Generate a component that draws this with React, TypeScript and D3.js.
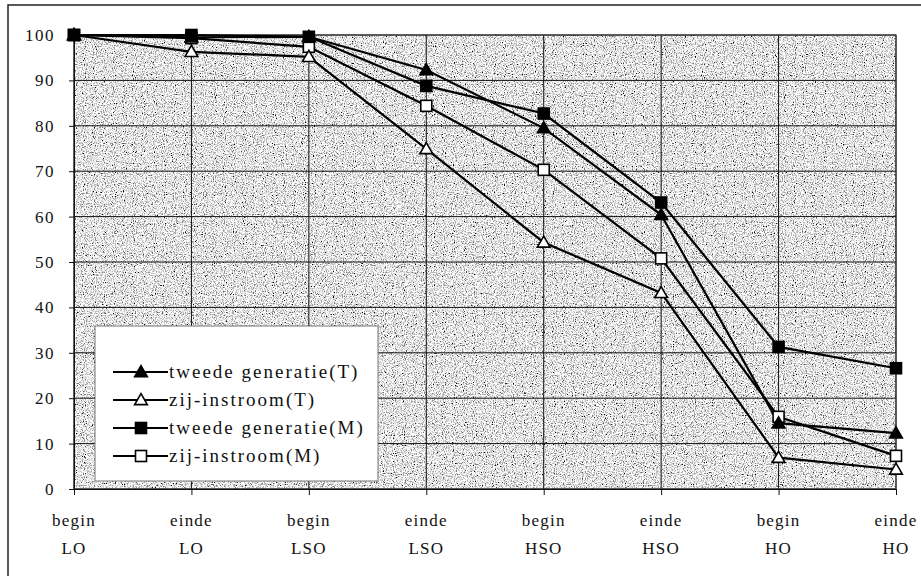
import { useEffect, useRef } from "react";
import * as d3 from "d3";

const categories = [
  ["begin", "LO"],
  ["einde", "LO"],
  ["begin", "LSO"],
  ["einde", "LSO"],
  ["begin", "HSO"],
  ["einde", "HSO"],
  ["begin", "HO"],
  ["einde", "HO"],
];

const tweedeT = [100, 99.5, 99.6, 92.3, 79.5, 60.4, 14.5, 12.3];
const zijT = [100, 96.3, 95.2, 74.9, 54.3, 43.2, 6.9, 4.3];
const tweedeM = [100, 100, 99.6, 88.8, 82.7, 63.1, 31.3, 26.6];
const zijM = [100, 99.3, 97.4, 84.4, 70.3, 50.8, 15.9, 7.3];

const yTicks = [0, 10, 20, 30, 40, 50, 60, 70, 80, 90, 100];

const series = [
  { name: "tweede generatie(T)", values: tweedeT, shape: "triangle", filled: true },
  { name: "zij-instroom(T)", values: zijT, shape: "triangle", filled: false },
  { name: "tweede generatie(M)", values: tweedeM, shape: "square", filled: true },
  { name: "zij-instroom(M)", values: zijM, shape: "square", filled: false },
];

const FONT = "'Liberation Serif', 'Times New Roman', Times, Tinos, 'Nimbus Roman', 'DejaVu Serif', serif";

const App = () => {
  const svgRef = useRef<SVGSVGElement>(null);
  const W = 921;
  const H = 576;
  const margin = { top: 35, right: 25, bottom: 87, left: 74 };

  useEffect(() => {
    const svg = d3.select(svgRef.current);
    svg.selectAll("*").remove();

    const x = d3.scalePoint<number>()
      .domain(d3.range(categories.length))
      .range([margin.left, W - margin.right]);
    const y = d3.scaleLinear().domain([0, 100]).range([H - margin.bottom, margin.top]);

    // stipple texture for the plot area
    const defs = svg.append("defs");
    const filt = defs.append("filter").attr("id", "stipple")
      .attr("x", 0).attr("y", 0).attr("width", 1).attr("height", 1);
    filt.append("feTurbulence")
      .attr("type", "fractalNoise")
      .attr("baseFrequency", 0.9)
      .attr("numOctaves", 2)
      .attr("seed", 3)
      .attr("result", "n");
    filt.append("feColorMatrix")
      .attr("type", "matrix")
      .attr("values", "2.8 0 0 0 -0.6  2.8 0 0 0 -0.6  2.8 0 0 0 -0.6  0 0 0 0 1");

    // outer frame
    svg.append("rect")
      .attr("x", 8).attr("y", 5)
      .attr("width", W).attr("height", H)
      .attr("fill", "#fff").attr("stroke", "#222").attr("stroke-width", 1.5);

    const x0 = margin.left, x1 = W - margin.right;
    const y0 = margin.top, y1 = H - margin.bottom;

    svg.append("rect")
      .attr("x", x0).attr("y", y0)
      .attr("width", x1 - x0).attr("height", y1 - y0)
      .attr("fill", "#aaa")
      .attr("filter", "url(#stipple)");

    // grid
    svg.append("g")
      .selectAll("line")
      .data(yTicks)
      .join("line")
      .attr("x1", x0).attr("x2", x1)
      .attr("y1", d => y(d)).attr("y2", d => y(d))
      .attr("stroke", "#111").attr("stroke-width", 1);

    svg.append("g")
      .selectAll("line")
      .data(d3.range(categories.length))
      .join("line")
      .attr("x1", d => x(d)!).attr("x2", d => x(d)!)
      .attr("y1", y0).attr("y2", y1)
      .attr("stroke", "#111").attr("stroke-width", 1);

    svg.append("rect")
      .attr("x", x0).attr("y", y0)
      .attr("width", x1 - x0).attr("height", y1 - y0)
      .attr("fill", "none").attr("stroke", "#333").attr("stroke-width", 1);

    // y axis
    const yAxis = svg.append("g")
      .attr("transform", `translate(${x0},0)`)
      .call(d3.axisLeft(y).tickValues(yTicks).tickSize(5).tickPadding(14));
    yAxis.attr("font-family", null).attr("font-size", null);
    yAxis.select(".domain").attr("stroke", "#111");
    yAxis.selectAll(".tick line").attr("stroke", "#111");
    yAxis.selectAll("text")
      .style("font-family", FONT)
      .style("font-size", "17px")
      .attr("letter-spacing", 1.5)
      .attr("fill", "#111");

    // x axis
    const xAxis = svg.append("g")
      .attr("transform", `translate(0,${y1})`)
      .call(d3.axisBottom(x).tickSize(6).tickFormat(() => ""));
    xAxis.select(".domain").attr("stroke", "#111");
    xAxis.selectAll(".tick line").attr("stroke", "#111");

    const labels = svg.append("g")
      .selectAll("text")
      .data(categories)
      .join("text")
      .style("font-family", FONT)
      .style("font-size", "17px")
      .attr("letter-spacing", 1.2)
      .attr("fill", "#111")
      .attr("text-anchor", "middle");
    labels.append("tspan")
      .attr("x", (d, i) => x(i)!)
      .attr("y", 526)
      .text(d => d[0]);
    labels.append("tspan")
      .attr("x", (d, i) => x(i)!)
      .attr("y", 554)
      .text(d => d[1]);

    const line = d3.line<number>()
      .x((d, i) => x(i)!)
      .y(d => y(d));

    const tri = d3.symbol().type(d3.symbolTriangle).size(70);

    const drawMarker = (g, s, cx, cy) => {
      if (s.shape === "triangle") {
        g.append("path")
          .attr("d", tri())
          .attr("transform", `translate(${cx},${cy + 1})`)
          .attr("fill", s.filled ? "#000" : "#fff")
          .attr("stroke", "#000")
          .attr("stroke-width", 1.6);
      } else {
        g.append("rect")
          .attr("x", cx - 5.5).attr("y", cy - 5.5)
          .attr("width", 11).attr("height", 11)
          .attr("fill", s.filled ? "#000" : "#fff")
          .attr("stroke", "#000")
          .attr("stroke-width", 1.6);
      }
    };

    series.forEach(s => {
      svg.append("path")
        .datum(s.values)
        .attr("d", line)
        .attr("fill", "none")
        .attr("stroke", "#000")
        .attr("stroke-width", 2.2);
    });
    // markers drawn from back to front
    [...series].reverse().forEach(s => {
      const g = svg.append("g");
      s.values.forEach((v, i) => drawMarker(g, s, x(i)!, y(v)));
    });

    // legend
    const lg = svg.append("g");
    lg.append("rect")
      .attr("x", 95).attr("y", 326)
      .attr("width", 283).attr("height", 155)
      .attr("fill", "#fff")
      .attr("stroke", "#777").attr("stroke-width", 1);
    const rows = [372, 400, 428, 456];
    series.forEach((s, i) => {
      const cy = rows[i];
      lg.append("line")
        .attr("x1", 113).attr("x2", 168)
        .attr("y1", cy).attr("y2", cy)
        .attr("stroke", "#000").attr("stroke-width", 2);
      drawMarker(lg, s, 141, cy);
      lg.append("text")
        .attr("x", 169).attr("y", cy)
        .attr("dy", "0.32em")
        .style("font-family", FONT)
        .style("font-size", "19px")
        .attr("letter-spacing", 2)
        .attr("fill", "#111")
        .text(s.name);
    });
  }, []);

  return <svg ref={svgRef} width={W} height={H} style={{ display: "block", position: "absolute", left: 0, top: 0 }} />;
};

export default App;
